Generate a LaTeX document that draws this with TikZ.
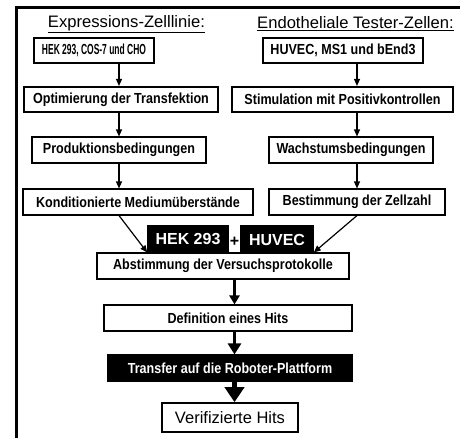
\documentclass[tikz,border=0pt]{standalone}
\usepackage{fontspec}
\setmainfont{Liberation Sans}
\newfontfamily\condfont{Liberation Sans}[FakeStretch=0.86]
\usepackage{graphicx}
\usetikzlibrary{arrows.meta}

\newcommand{\squeeze}[2]{\resizebox{#1pt}{\height}{#2}}

\begin{document}
\begin{tikzpicture}[x=1pt, y=-1pt, line width=1.6pt,
  box/.style={draw, fill=white, inner sep=0pt, minimum height=25.5,
    font=\condfont\bfseries\fontsize{14.6}{16}\selectfont},
  dark/.style={box, fill=black, text=white},
  head/.style={font=\fontsize{16.6}{18}\selectfont},
  flow/.style={line width=1.2pt, -{Triangle[width=6pt,length=7pt]}},
  arr1/.style={line width=2.5pt, -{Triangle[width=10pt,length=9pt]}},
  arr2/.style={line width=3.5pt, -{Triangle[width=13pt,length=11pt]}},
  arr3/.style={line width=4.5pt, -{Triangle[width=19pt,length=15pt]}}]
  \useasboundingbox (0,0) rectangle (460,438);
  \draw[line width=3pt] (16,438) -- (16,8) -- (460,8);

  % headings
  \node[head] (hl) at (126.5,24) {\underline{\squeeze{157}{Expressions-Zelllinie:}}};
  \node[head] (hr) at (355.5,24) {\underline{Endotheliale Tester-Zellen:}};

  % left column
  \node[box, minimum width=120] (e1) at (94,50.5) {\squeeze{104}{HEK 293, COS-7 und CHO}};
  \node[box, minimum width=194] (e2) at (121,99.5) {Optimierung der Transfektion};
  \node[box, minimum width=174] (e3) at (119,150) {Produktionsbedingungen};
  \node[box, minimum width=230] (e4) at (138,202) {Konditionierte Mediumüberstände};

  % right column
  \node[box, minimum width=160] (t1) at (343,50.5) {HUVEC, MS1 und bEnd3};
  \node[box, minimum width=221] (t2) at (342.5,99.5) {Stimulation mit Positivkontrollen};
  \node[box, minimum width=164] (t3) at (351,150) {Wachstumsbedingungen};
  \node[box, minimum width=176] (t4) at (357,202) {Bestimmung der Zellzahl};

  % joint part
  \node[box, minimum width=252] (abst) at (223,266) {Abstimmung der Versuchsprotokolle};
  \node[dark, minimum width=80, minimum height=27,
    font=\bfseries\fontsize{16}{18}\selectfont] (hek) at (188,239.5) {HEK 293};
  \node[dark, minimum width=72, minimum height=27,
    font=\bfseries\fontsize{16}{18}\selectfont] (huvec) at (277,239.5) {HUVEC};
  \node[font=\bfseries\fontsize{16}{18}\selectfont] (plus) at (234.5,242) {+};
  \node[box, minimum width=248] (defn) at (228,318) {Definition eines Hits};
  \node[dark, minimum width=244] (trans) at (230,368) {Transfer auf die Roboter-Plattform};
  \node[box, minimum width=136, minimum height=29,
    font=\fontsize{16.5}{18}\selectfont] (verif) at (230,417.5) {Verifizierte Hits};

  \path[flow]
    (e1.south -| e3) edge (e2.north -| e3)
    (e2.south -| e3) edge (e3.north)
    (e3.south)       edge (e4.north -| e3)
    (t1.south -| t4) edge (t2.north -| t4)
    (t2.south -| t4) edge (t3.north -| t4)
    (t3.south -| t4) edge (t4.north)
    (e4.south -| e3) edge (abst.north -| hek.west)
    (t4.south)       edge (abst.north -| huvec.east)
    ;
  \draw[arr1] (abst.south -| plus) -- (defn.north -| plus);
  \draw[arr2] (defn.south -| plus) -- (trans.north -| plus);
  \draw[arr3] (trans.south -| plus) -- (verif.north -| plus);
\end{tikzpicture}
\end{document}
